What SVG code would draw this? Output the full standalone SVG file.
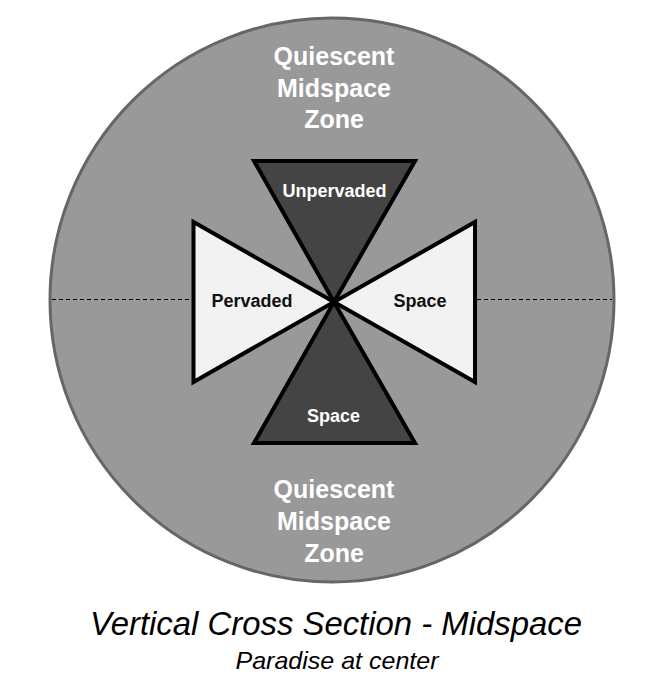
<svg xmlns="http://www.w3.org/2000/svg" width="671" height="695" viewBox="0 0 671 695">
  <style>
    .zone { fill: #ffffff; font-family: "Liberation Sans", Arial, sans-serif; font-weight: bold; font-size: 25px; text-anchor: middle; }
    .lbl { fill: #ffffff; font-family: "Liberation Sans", Arial, sans-serif; font-weight: bold; font-size: 18px; text-anchor: middle; }
    .lbl-dark { fill: #111111; }
    .tri { stroke: #000000; stroke-width: 4; stroke-linejoin: miter; }
    .dark { fill: #444444; }
    .light { fill: #f2f2f2; }
    .title { fill: #000000; font-family: "Liberation Sans", Arial, sans-serif; font-style: italic; text-anchor: middle; }
  </style>
  <rect width="671" height="695" fill="#ffffff"/>
  <g id="midspace-circle">
    <circle cx="332" cy="300" r="282" fill="#999999" stroke="#666666" stroke-width="3"/>
  </g>
  <g id="connectors">
    <line x1="52" y1="299.5" x2="192" y2="299.5" stroke="#000000" stroke-width="1" stroke-dasharray="4,3"/>
    <line x1="477" y1="299.5" x2="612" y2="299.5" stroke="#000000" stroke-width="1" stroke-dasharray="4,3"/>
  </g>
  <g id="zone-top">
    <text class="zone" x="334" y="65">Quiescent</text>
    <text class="zone" x="334" y="96.5">Midspace</text>
    <text class="zone" x="334" y="128">Zone</text>
  </g>
  <g id="zone-bottom">
    <text class="zone" x="334" y="497.5">Quiescent</text>
    <text class="zone" x="334" y="530">Midspace</text>
    <text class="zone" x="334" y="561.5">Zone</text>
  </g>
  <g id="unpervaded-top">
    <polygon class="tri dark" points="254,161 415,161 334,302"/>
    <text class="lbl" x="334.5" y="197">Unpervaded</text>
  </g>
  <g id="space-bottom">
    <polygon class="tri dark" points="254,443 415,443 334,302"/>
    <text class="lbl" x="333.5" y="421.5">Space</text>
  </g>
  <g id="pervaded-left">
    <polygon class="tri light" points="193.5,222 193.5,382 334,302"/>
    <text class="lbl lbl-dark" x="252" y="306.5">Pervaded</text>
  </g>
  <g id="space-right">
    <polygon class="tri light" points="475,222 475,382 334,302"/>
    <text class="lbl lbl-dark" x="420" y="306.5">Space</text>
  </g>
  <g id="caption">
    <text class="title" x="336" y="635" font-size="33" textLength="492" lengthAdjust="spacingAndGlyphs">Vertical Cross Section - Midspace</text>
    <text class="title" x="337" y="669" font-size="24" textLength="203" lengthAdjust="spacingAndGlyphs">Paradise at center</text>
  </g>
</svg>
